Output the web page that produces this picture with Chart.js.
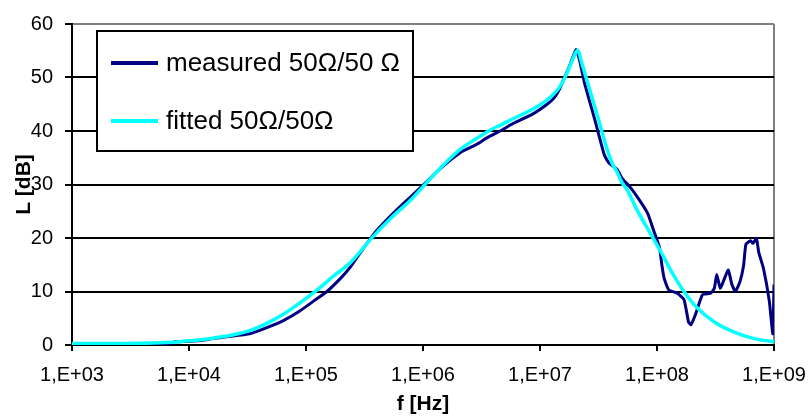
<!DOCTYPE html>
<html>
<head>
<meta charset="utf-8">
<script src="https://cdn.jsdelivr.net/npm/chart.js@4/dist/chart.umd.min.js"></script>
<style>
  html, body { margin: 0; padding: 0; background: #fff; }
  #wrap { width: 808px; height: 417px; position: relative; }
</style>
</head>
<body>
<div id="wrap"><canvas id="c" width="808" height="417"></canvas></div>
<script>
// ---- data ----
const seriesNames = ['measured 50\u03A9/50 \u03A9', 'fitted 50\u03A9/50\u03A9'];

const measuredFreq = [1.0e3, 7.08e3, 7.59e3, 1.0e4, 1.41e4, 2.0e4, 3.31e4, 4.57e4, 6.46e4, 8.91e4,
  1.23e5, 1.51e5, 2.0e5, 2.40e5, 3.72e5, 5.50e5, 7.76e5, 1.05e6, 1.41e6, 2.09e6,
  2.82e6, 3.63e6, 4.57e6, 5.89e6, 8.71e6, 1.15e7, 1.32e7, 1.48e7, 1.58e7, 1.74e7,
  1.91e7, 2.04e7, 2.19e7, 2.40e7, 2.95e7, 3.55e7, 3.89e7, 4.57e7, 5.01e7, 5.89e7,
  6.92e7, 8.32e7, 9.33e7, 1.05e8, 1.10e8, 1.15e8, 1.26e8, 1.48e8, 1.70e8, 1.86e8,
  1.95e8, 2.14e8, 2.45e8, 2.88e8, 3.09e8, 3.24e8, 3.47e8, 3.80e8, 4.07e8, 4.37e8,
  4.68e8, 5.13e8, 5.50e8, 5.75e8, 6.31e8, 6.61e8, 7.08e8, 7.41e8, 8.13e8, 9.12e8,
  9.77e8, 1.0e9];
const measuredL = [0.2, 0.3, 0.6, 0.7, 1.0, 1.5, 2.1, 3.2, 4.6, 6.4,
  8.6, 10.0, 12.6, 14.6, 20.5, 24.5, 27.6, 30.3, 33.0, 36.0,
  37.4, 38.9, 40.0, 41.4, 43.2, 45.0, 46.2, 48.0, 49.5, 51.5,
  53.8, 55.2, 53.0, 49.0, 42.0, 35.5, 34.0, 32.8, 31.2, 29.5,
  27.4, 24.6, 21.5, 18.2, 15.0, 12.5, 10.3, 9.7, 8.5, 4.3,
  3.8, 5.8, 9.4, 9.7, 10.6, 13.2, 10.6, 12.6, 14.0, 11.3,
  10.0, 11.9, 14.9, 18.8, 19.5, 19.0, 19.9, 17.3, 14.3, 8.2,
  2.1, 11.3];

const fittedFreq = [1.0e3, 3.16e3, 7.08e3, 8.91e3, 1.26e4, 1.74e4, 2.51e4, 3.31e4, 4.57e4, 6.46e4,
  8.91e4, 1.23e5, 1.70e5, 2.40e5, 3.72e5, 5.50e5, 7.76e5, 1.05e6, 1.41e6, 2.09e6,
  2.82e6, 3.63e6, 4.68e6, 5.89e6, 8.71e6, 1.15e7, 1.32e7, 1.48e7, 1.70e7, 1.91e7,
  2.09e7, 2.29e7, 2.51e7, 3.09e7, 3.72e7, 4.17e7, 4.57e7, 5.01e7, 5.56e7, 6.76e7,
  8.71e7, 1.05e8, 1.38e8, 1.70e8, 2.19e8, 3.09e8, 4.57e8, 6.76e8, 1.0e9];
const fittedL = [0.3, 0.3, 0.5, 0.7, 1.0, 1.4, 2.0, 2.7, 4.0, 5.8,
  7.9, 10.2, 12.8, 15.4, 20.2, 24.0, 27.0, 30.1, 33.1, 36.6,
  38.5, 40.0, 41.2, 42.3, 44.1, 45.8, 47.0, 48.3, 50.8, 53.5,
  55.1, 52.5, 49.6, 42.9, 36.8, 33.8, 32.3, 30.4, 29.0, 25.2,
  21.0, 17.9, 13.1, 10.0, 7.0, 4.3, 2.4, 1.2, 0.6];

const xTickValues = [1e3, 1e4, 1e5, 1e6, 1e7, 1e8, 1e9];
const xTickLabels = ['1,E+03', '1,E+04', '1,E+05', '1,E+06', '1,E+07', '1,E+08', '1,E+09'];
const yTickValues = [0, 10, 20, 30, 40, 50, 60];
const xTitle = 'f [Hz]';
const yTitle = 'L [dB]';

// ---- build ----
function pts(xs, ys) { return xs.map((x, i) => ({ x: x, y: ys[i] })); }

const FONT = 'Arial, "Liberation Sans", sans-serif';

const boxLegend = {
  id: 'boxLegend',
  afterDatasetsDraw(chart) {
    const ctx = chart.ctx;
    const a = chart.chartArea;
    const bx = a.left + 25, by = a.top + 7, bw = 316, bh = 120;
    ctx.save();
    ctx.fillStyle = '#ffffff';
    ctx.fillRect(bx, by, bw, bh);
    ctx.strokeStyle = '#000000';
    ctx.lineWidth = 2;
    ctx.strokeRect(bx, by, bw, bh);
    const rows = [by + 32, by + 90];
    chart.data.datasets.forEach((ds, i) => {
      const y = rows[i];
      ctx.strokeStyle = ds.borderColor;
      ctx.lineWidth = 4;
      ctx.beginPath();
      ctx.moveTo(bx + 14, y);
      ctx.lineTo(bx + 61, y);
      ctx.stroke();
      ctx.fillStyle = '#000';
      ctx.font = '26px ' + FONT;
      ctx.textBaseline = 'middle';
      ctx.textAlign = 'left';
      ctx.fillText(ds.label, bx + 69, y + 1);
    });
    ctx.restore();
  }
};

new Chart(document.getElementById('c'), {
  type: 'line',
  data: {
    datasets: [
      {
        label: seriesNames[0],
        data: pts(measuredFreq, measuredL),
        borderColor: '#000080',
        backgroundColor: '#000080',
        borderWidth: 3,
        pointRadius: 0,
        tension: 0.15,
        order: 1
      },
      {
        label: seriesNames[1],
        data: pts(fittedFreq, fittedL),
        borderColor: '#00FFFF',
        backgroundColor: '#00FFFF',
        borderWidth: 3.5,
        pointRadius: 0,
        cubicInterpolationMode: 'monotone',
        order: 0
      }
    ]
  },
  options: {
    responsive: false,
    animation: false,
    devicePixelRatio: 1,
    layout: { padding: { left: 0, top: 16, right: 34, bottom: 0 } },
    plugins: {
      legend: { display: false },
      tooltip: { enabled: false }
    },
    scales: {
      x: {
        type: 'logarithmic',
        min: xTickValues[0],
        max: xTickValues[xTickValues.length - 1],
        afterBuildTicks(scale) { scale.ticks = xTickValues.map(v => ({ value: v, major: true })); },
        afterFit(scale) { scale.height = 72; scale.paddingLeft = 0; scale.paddingRight = 0; },
        ticks: {
          autoSkip: false,
          maxRotation: 0,
          color: '#000',
          font: { family: FONT, size: 20 },
          padding: 12,
          callback: function (v) { const i = xTickValues.indexOf(v); return i >= 0 ? xTickLabels[i] : ''; }
        },
        grid: {
          drawOnChartArea: true,
          color: (c) => (c.index === xTickValues.length - 1 ? '#808080' : 'rgba(0,0,0,0)'),
          tickColor: '#000',
          tickLength: 6,
          lineWidth: 2
        },
        border: { display: true, color: '#000', width: 2 },
        title: {
          display: true,
          text: xTitle,
          color: '#000',
          font: { family: FONT, size: 21, weight: 'bold' },
          padding: { top: 0, bottom: 0 }
        }
      },
      y: {
        min: 0,
        max: 60,
        afterBuildTicks(scale) { scale.ticks = yTickValues.map(v => ({ value: v })); },
        afterFit(scale) { scale.width = 72; },
        ticks: {
          color: '#000',
          font: { family: FONT, size: 20 },
          padding: 12
        },
        grid: {
          color: (c) => (c.tick && c.tick.value === 60 ? '#808080' : (c.tick && c.tick.value === 0 ? 'rgba(0,0,0,0)' : '#000')),
          tickColor: '#000',
          tickLength: 7,
          lineWidth: 2
        },
        border: { display: true, color: '#000', width: 2 },
        title: {
          display: true,
          text: yTitle,
          color: '#000',
          font: { family: FONT, size: 21, weight: 'bold' },
          padding: { top: 12, bottom: 0 }
        }
      }
    }
  },
  plugins: [boxLegend]
});
</script>
</body>
</html>
